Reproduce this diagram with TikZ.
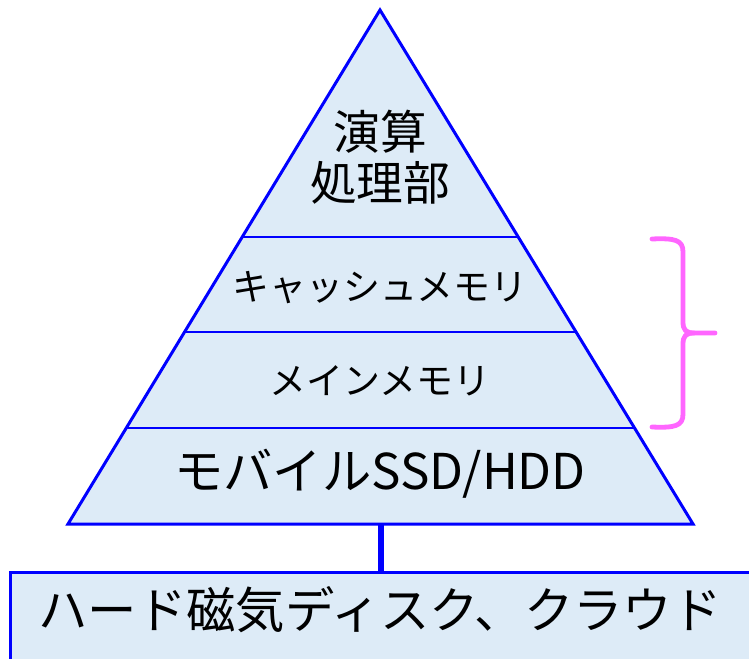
\documentclass[tikz,border=0pt]{standalone}
\usepackage{fontspec}
\setmainfont{Noto Sans CJK JP}
\usetikzlibrary{calc}
\definecolor{tfill}{RGB}{221,235,247}
\definecolor{tblue}{RGB}{0,0,255}
\definecolor{bpink}{RGB}{255,102,255}
\begin{document}
\begin{tikzpicture}[x=0.75pt,y=-0.75pt,
  outline/.style={draw=tblue,line width=2.25pt,line join=miter},
  divider/.style={draw=tblue,line width=1pt},
  conn/.style={draw=tblue,line width=4.5pt},
  diskbox/.style={draw=tblue,fill=tfill,line width=2.25pt,minimum width=600pt,minimum height=90pt,inner sep=0pt,anchor=north west},
  bigtext/.style={font=\fontsize{35}{42}\selectfont,align=center,inner sep=0pt},
  midtext/.style={font=\fontsize{27.7}{32}\selectfont,inner sep=0pt},
  lowtext/.style={font=\fontsize{37}{42}\selectfont,inner sep=0pt},
  bracepath/.style={draw=bpink,line width=3.6pt,line cap=round,line join=round}]
\useasboundingbox (0,0) rectangle (749,659);
\clip (0,0) rectangle (749,659);
\coordinate (apex) at (380,10);
\coordinate (bl) at (68,524);
\coordinate (br) at (693,524);
\fill[tfill] (apex) -- (bl) -- (br) -- cycle;
\foreach \t/\n in {0.4416/a,0.6265/b,0.8132/c}{
  \coordinate (l\n) at ($(apex)!\t!(bl)$);
  \coordinate (r\n) at ($(apex)!\t!(br)$);
  \draw[divider] (l\n) -- (r\n);
}
\draw[outline] (apex) -- (bl) -- (br) -- cycle;
\node[bigtext] (alu) at (380,157) {演算\\[-4pt]処理部};
\node[midtext] (cache) at (380,288) {キャッシュメモリ};
\node[midtext] (mainmem) at (380,381) {メインメモリ};
\node[lowtext] (ssd) at (380,474) {モバイルSSD/HDD};
\node[diskbox] (disk) at (9,571) {};
\node[lowtext] (disktext) at (380,610) {ハード磁気ディスク、クラウド};
\coordinate (basemid) at ($(bl)!0.5!(br)$);
\draw[conn] (basemid) -- (basemid |- disk.north);
\draw[bracepath] (652,239) .. controls (675,238) and (683,240) .. (683,252) -- (683,322)
  .. controls (683,330) and (686,333) .. (694,333) -- (715,333);
\draw[bracepath] (694,333) .. controls (686,333) and (683,336) .. (683,344) -- (683,414)
  .. controls (683,426) and (675,428) .. (652,427);
\end{tikzpicture}
\end{document}
